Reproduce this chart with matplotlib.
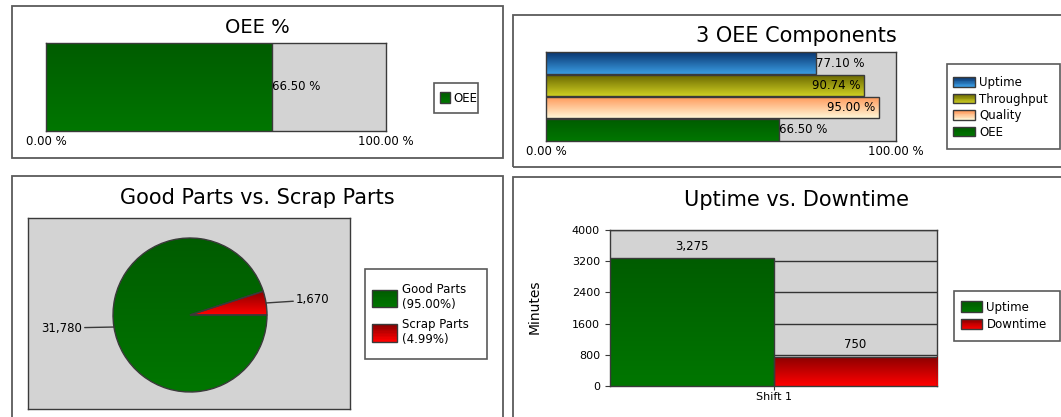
import numpy as np
import matplotlib
matplotlib.use('Agg')
import matplotlib.pyplot as plt
from matplotlib.patches import Rectangle, Patch
from matplotlib.colors import to_rgb
from matplotlib.legend_handler import HandlerBase

# ---------------- data ----------------
oee_labels = ['OEE']
oee_values = [66.50]
comp_labels = ['Uptime', 'Throughput', 'Quality', 'OEE']
comp_values = [77.10, 90.74, 95.00, 66.50]
parts_labels = ['Good Parts', 'Scrap Parts']
parts_values = [31780, 1670]
shift_labels = ['Shift 1']
time_labels = ['Uptime', 'Downtime']
time_values = [3275, 750]
pct_ticks = [0, 100]
minute_ticks = [0, 800, 1600, 2400, 3200, 4000]

# ---------------- style ----------------
plt.rcParams['font.family'] = ['DejaVu Sans']
W, H = 1061, 417
fig = plt.figure(figsize=(W / 100, H / 100), dpi=100)
fig.patch.set_facecolor('white')

GRAY = '#D3D3D3'
EDGE = '#3a3a3a'
FRAME = '#5a5a5a'
SMALL = 8.5
TICK = 8

GRADS = {
    'green': ('#005C00', '#007600'),
    'blue': ('#0A3670', '#3A9CE2'),
    'olive': ('#666400', '#CFCF22'),
    'peach': ('#FF9656', '#FFF6D6'),
    'red': ('#8A0000', '#FF0000'),
}
MID = {k: tuple((np.array(to_rgb(a)) + np.array(to_rgb(b))) / 2) for k, (a, b) in GRADS.items()}


def grad_colors(key, n):
    t, b = np.array(to_rgb(GRADS[key][0])), np.array(to_rgb(GRADS[key][1]))
    f = np.linspace(0, 1, n)[:, None]
    return t[None, :] * (1 - f) + b[None, :] * f


class GradPatch(Patch):
    def __init__(self, key, **kw):
        super().__init__(**kw)
        self.key = key


class GradHandler(HandlerBase):
    def create_artists(self, legend, orig_handle, xdescent, ydescent, width, height,
                       fontsize, trans):
        n = 12
        cols = grad_colors(orig_handle.key, n)
        arts = []
        for i in range(n):
            y = -ydescent + height * (1 - (i + 1) / n)
            arts.append(Rectangle((-xdescent, y), width, height / n + 0.01,
                                  fc=cols[i], ec='none', transform=trans))
        arts.append(Rectangle((-xdescent, -ydescent), width, height, fc='none',
                              ec=EDGE, lw=1, transform=trans))
        return arts


def px(x0, y0, x1, y1):
    return [x0 / W, 1 - y1 / H, (x1 - x0) / W, (y1 - y0) / H]


def frame(x0, y0, x1, y1, lw=1.3, ec=FRAME):
    r = Rectangle((x0 / W, 1 - y1 / H), (x1 - x0) / W, (y1 - y0) / H,
                  transform=fig.transFigure, fill=False, ec=ec, lw=lw, zorder=0)
    fig.add_artist(r)
    return r


def grad_fill(ax, patch, key):
    img = grad_colors(key, 64)[:, None, :]
    bb = patch.get_path().get_extents(patch.get_patch_transform())
    im = ax.imshow(img, extent=(bb.x0, bb.x1, bb.y0, bb.y1), origin='upper',
                   aspect='auto', interpolation='bilinear',
                   zorder=patch.get_zorder() - 0.1)
    im.set_clip_path(patch)
    patch.set_facecolor('none')


def style_area(ax):
    ax.set_facecolor(GRAY)
    for s in ax.spines.values():
        s.set_color(EDGE)
        s.set_linewidth(1)


def legend(keys, labels, x_left, y_center, hl, hh, ls, htp=0.35):
    handles = [GradPatch(k) for k in keys]
    leg = fig.legend(handles, labels, loc='center left',
                     bbox_to_anchor=(x_left / W, 1 - y_center / H),
                     frameon=False, borderpad=0, borderaxespad=0,
                     handlelength=hl, handleheight=hh, labelspacing=ls,
                     handletextpad=htp, fontsize=SMALL,
                     handler_map={GradPatch: GradHandler()})
    return leg


# ---------------- panel frames ----------------
frame(12, 6, 503, 158)
frame(513, 15, 1075, 167)
frame(12, 176, 503, 425)
frame(513, 177, 1075, 425)

# ---------------- OEE % ----------------
fig.text(257 / W, 1 - 33 / H, 'OEE %', ha='center', va='baseline', fontsize=14)
ax1 = fig.add_axes(px(46, 43, 386, 131))
style_area(ax1)
b1 = ax1.barh(np.arange(len(oee_values)), oee_values, height=1.0,
              color=MID['green'], edgecolor=EDGE, lw=1, zorder=3)
for p in b1:
    grad_fill(ax1, p, 'green')
for p, v in zip(b1, oee_values):
    ax1.text(p.get_width(), p.get_y() + p.get_height() / 2, f'{v:.2f} %',
             ha='left', va='center', fontsize=SMALL, zorder=5)
ax1.set_xlim(pct_ticks[0], pct_ticks[-1])
ax1.set_ylim(-0.5, len(oee_values) - 0.5)
ax1.set_yticks([])
ax1.set_xticks(pct_ticks, [f'{v:.2f} %' for v in pct_ticks])
ax1.tick_params(axis='x', length=0, pad=3, labelsize=SMALL)
frame(434, 83, 478, 113, lw=1.2)
legend(['green'], oee_labels, 440, 98, hl=0.85, hh=1.1, ls=0.3, htp=0.25)

# ---------------- 3 OEE Components ----------------
fig.text(796 / W, 1 - 42 / H, '3 OEE Components', ha='center', va='baseline', fontsize=15)
ax2 = fig.add_axes(px(546, 52, 896, 141))
style_area(ax2)
ypos = np.arange(len(comp_values))[::-1]
comp_keys = ['blue', 'olive', 'peach', 'green']
b2 = ax2.barh(ypos, comp_values, height=0.96, color=[MID[k] for k in comp_keys],
              edgecolor=EDGE, lw=1, zorder=3)
for p, k in zip(b2, comp_keys):
    grad_fill(ax2, p, k)
for p, v in zip(b2, comp_values):
    yc = p.get_y() + p.get_height() / 2
    if v > 85:
        ax2.text(p.get_width() - 0.8, yc, f'{v:.2f} %', ha='right', va='center',
                 fontsize=SMALL, zorder=5)
    else:
        ax2.text(p.get_width(), yc, f'{v:.2f} %', ha='left', va='center',
                 fontsize=SMALL, zorder=5)
ax2.set_xlim(pct_ticks[0], pct_ticks[-1])
ax2.set_ylim(-0.5, len(comp_values) - 0.5)
ax2.set_yticks([])
ax2.set_xticks(pct_ticks, [f'{v:.2f} %' for v in pct_ticks])
ax2.tick_params(axis='x', length=0, pad=3, labelsize=SMALL)
frame(947, 64, 1060, 149, lw=1.2)
legend(comp_keys, comp_labels, 953, 107.5, hl=1.85, hh=0.85, ls=0.3)

# ---------------- Good Parts vs. Scrap Parts ----------------
fig.text(257 / W, 1 - 204 / H, 'Good Parts vs. Scrap Parts', ha='center', va='baseline', fontsize=15)
ax3 = fig.add_axes(px(28, 218, 350, 409))
total = sum(parts_values)
pcts = [np.floor(v / total * 10000) / 100 for v in parts_values]
parts_keys = ['green', 'red']
wedges, _ = ax3.pie(parts_values, colors=[MID[k] for k in parts_keys], startangle=0,
                    counterclock=False, center=(162, 94), radius=77, frame=True,
                    wedgeprops=dict(edgecolor=EDGE, linewidth=1, zorder=3))
for w, k in zip(wedges, parts_keys):
    grad_fill(ax3, w, k)
offsets = [(-32, -1), (30, 3)]
for w, v, off in zip(wedges, parts_values, offsets):
    ang = np.deg2rad((w.theta1 + w.theta2) / 2)
    cx, cy = w.center
    xy = (cx + w.r * np.cos(ang), cy + w.r * np.sin(ang))
    ax3.annotate(f'{v:,}', xy=xy, xytext=off, textcoords='offset pixels',
                 ha='left' if off[0] > 0 else 'right', va='center', fontsize=SMALL,
                 arrowprops=dict(arrowstyle='-', color=EDGE, lw=1, shrinkA=0, shrinkB=0))
ax3.set_xlim(0, 322)
ax3.set_ylim(0, 191)
ax3.set_aspect('auto')
ax3.set_xticks([])
ax3.set_yticks([])
ax3.set_frame_on(True)
style_area(ax3)
frame(365, 269, 487, 359, lw=1.2)
legend(parts_keys, [f'{l}\n({p:.2f}%)' for l, p in zip(parts_labels, pcts)], 372, 314.5,
       hl=2.1, hh=1.95, ls=0.55, htp=0.45)

# ---------------- Uptime vs. Downtime ----------------
fig.text(796 / W, 1 - 206 / H, 'Uptime vs. Downtime', ha='center', va='baseline', fontsize=15)
ax4 = fig.add_axes(px(610, 230, 937, 386))
style_area(ax4)
xcat = np.arange(len(shift_labels))
bw = 1.0 / len(time_values)
time_keys = ['green', 'red']
for i, (lab, v, k) in enumerate(zip(time_labels, time_values, time_keys)):
    bars = ax4.bar(xcat + (i - (len(time_values) - 1) / 2) * bw, [v], width=bw,
                   color=MID[k], edgecolor=EDGE, lw=1, zorder=3, label=lab)
    for p in bars:
        grad_fill(ax4, p, k)
    ax4.bar_label(bars, labels=[f'{v:,}'], padding=4, fontsize=SMALL)
ax4.set_xlim(-0.5, len(shift_labels) - 0.5)
ax4.set_ylim(minute_ticks[0], minute_ticks[-1])
ax4.set_yticks(minute_ticks, [str(t) for t in minute_ticks])
ax4.set_xticks(xcat, shift_labels)
ax4.tick_params(axis='y', length=3.6, pad=3.6, labelsize=TICK, color=EDGE)
ax4.tick_params(axis='x', length=3, pad=1.5, labelsize=TICK, color=EDGE)
ax4.set_axisbelow(True)
ax4.grid(axis='y', color='#333333', lw=1)
ax4.set_ylabel('Minutes', fontsize=10)
ax4.yaxis.set_label_coords((542 - 610) / 327, (386 - 307) / 156)
frame(954, 291, 1060, 341, lw=1.2)
legend(time_keys, time_labels, 961, 316, hl=1.8, hh=0.95, ls=0.4, htp=0.35)

fig.savefig('out.png', dpi=100, facecolor='white')
